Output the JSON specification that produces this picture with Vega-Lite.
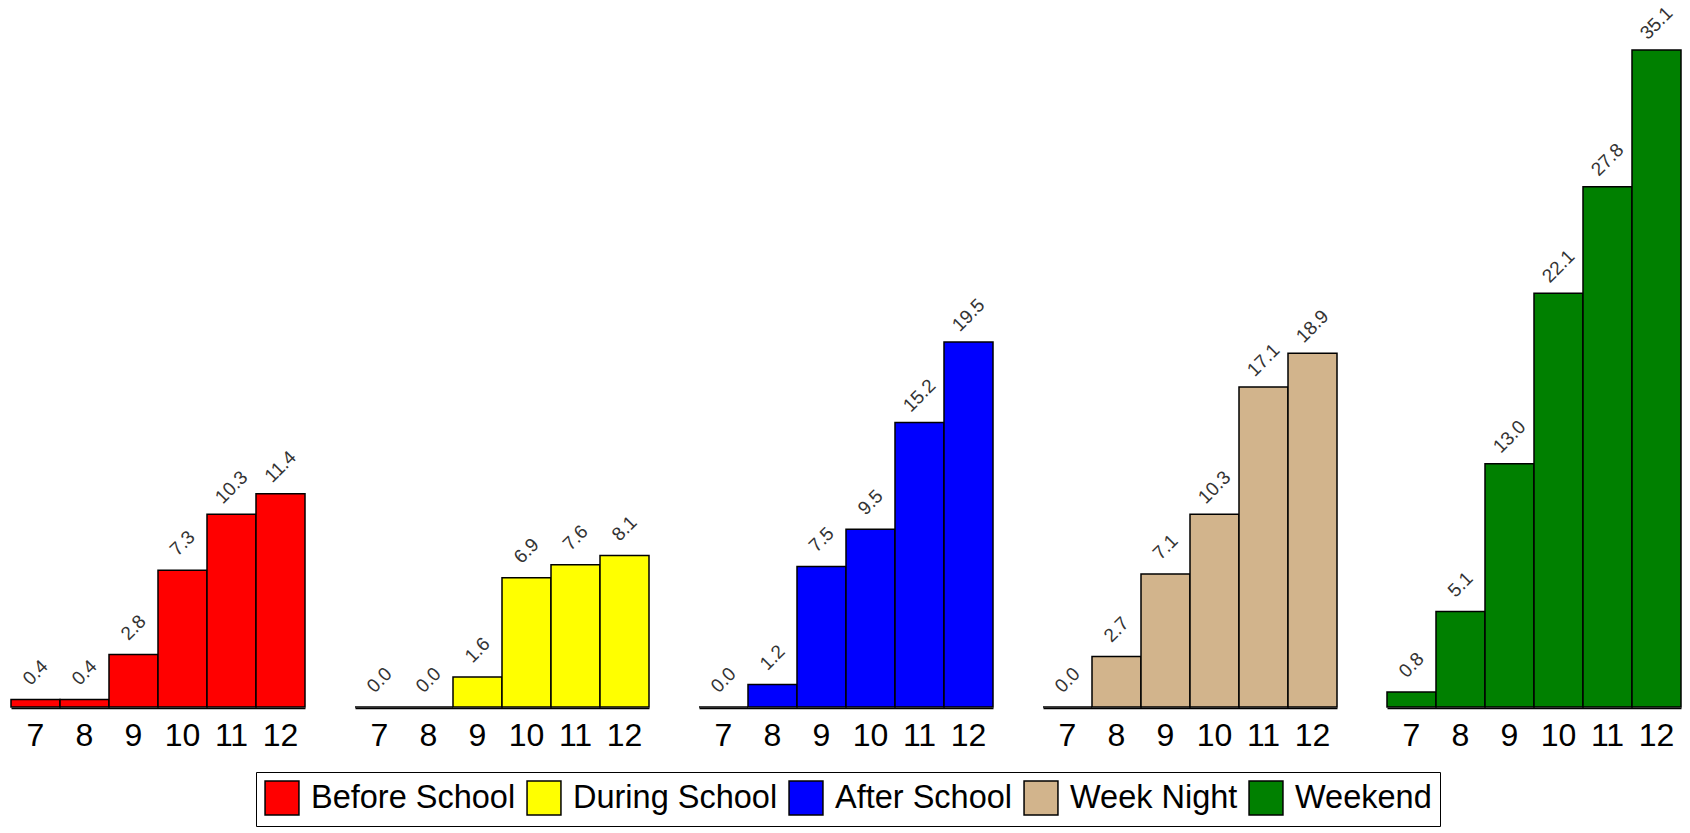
{
  "$schema": "https://vega.github.io/schema/vega-lite/v6.json",
  "padding": {"left": 10, "top": 1, "right": 0, "bottom": 0},
  "background": "white",
  "data": {"values": [
    {"period": "Before School", "grade": "7", "value": 0.4},
    {"period": "Before School", "grade": "8", "value": 0.4},
    {"period": "Before School", "grade": "9", "value": 2.8},
    {"period": "Before School", "grade": "10", "value": 7.3},
    {"period": "Before School", "grade": "11", "value": 10.3},
    {"period": "Before School", "grade": "12", "value": 11.4},
    {"period": "During School", "grade": "7", "value": 0.0},
    {"period": "During School", "grade": "8", "value": 0.0},
    {"period": "During School", "grade": "9", "value": 1.6},
    {"period": "During School", "grade": "10", "value": 6.9},
    {"period": "During School", "grade": "11", "value": 7.6},
    {"period": "During School", "grade": "12", "value": 8.1},
    {"period": "After School", "grade": "7", "value": 0.0},
    {"period": "After School", "grade": "8", "value": 1.2},
    {"period": "After School", "grade": "9", "value": 7.5},
    {"period": "After School", "grade": "10", "value": 9.5},
    {"period": "After School", "grade": "11", "value": 15.2},
    {"period": "After School", "grade": "12", "value": 19.5},
    {"period": "Week Night", "grade": "7", "value": 0.0},
    {"period": "Week Night", "grade": "8", "value": 2.7},
    {"period": "Week Night", "grade": "9", "value": 7.1},
    {"period": "Week Night", "grade": "10", "value": 10.3},
    {"period": "Week Night", "grade": "11", "value": 17.1},
    {"period": "Week Night", "grade": "12", "value": 18.9},
    {"period": "Weekend", "grade": "7", "value": 0.8},
    {"period": "Weekend", "grade": "8", "value": 5.1},
    {"period": "Weekend", "grade": "9", "value": 13.0},
    {"period": "Weekend", "grade": "10", "value": 22.1},
    {"period": "Weekend", "grade": "11", "value": 27.8},
    {"period": "Weekend", "grade": "12", "value": 35.1}
  ]},
  "facet": {
    "column": {
      "field": "period",
      "type": "nominal",
      "sort": ["Before School", "During School", "After School", "Week Night", "Weekend"],
      "header": {"title": null, "labels": false}
    }
  },
  "spacing": 48,
  "spec": {
    "width": 294,
    "height": 706,
    "layer": [
      {
        "mark": {"type": "bar", "stroke": "black", "strokeWidth": 1.5},
        "encoding": {
          "x": {"field": "grade", "type": "nominal", "sort": ["7", "8", "9", "10", "11", "12"],
                "scale": {"paddingInner": 0, "paddingOuter": 0},
                "axis": {"title": null, "labelAngle": 0, "ticks": false, "labelPadding": 12,
                         "labelFontSize": 32, "labelFont": "Liberation Sans", "labelColor": "black",
                         "domainColor": "black", "domainWidth": 1.5}},
          "y": {"field": "value", "type": "quantitative",
                "scale": {"domain": [0, 37.72], "nice": false, "zero": true},
                "axis": null},
          "color": {"field": "period", "type": "nominal",
                    "scale": {"domain": ["Before School", "During School", "After School", "Week Night", "Weekend"],
                              "range": ["#FF0000", "#FFFF00", "#0000FF", "#D2B48C", "#008000"]},
                    "legend": {"title": null, "orient": "none", "legendX": 245, "legendY": 771,
                               "direction": "horizontal", "columns": 5,
                               "symbolType": "square", "symbolSize": 1150,
                               "symbolStrokeColor": "black", "symbolStrokeWidth": 1.5,
                               "labelFontSize": 32.5, "labelFont": "Liberation Sans", "labelColor": "black",
                               "labelLimit": 0, "fillColor": "white", "strokeColor": "black",
                               "padding": 8, "columnPadding": 8, "labelOffset": 11}}
        }
      },
      {
        "mark": {"type": "text", "angle": 315, "align": "center", "baseline": "middle",
                 "dx": 19, "dy": -19, "fontSize": 19, "font": "Liberation Sans", "color": "#333333"},
        "encoding": {
          "x": {"field": "grade", "type": "nominal", "sort": ["7", "8", "9", "10", "11", "12"]},
          "y": {"field": "value", "type": "quantitative"},
          "text": {"field": "value", "type": "quantitative", "format": ".1f"}
        }
      }
    ]
  },
  "config": {"view": {"stroke": null}, "axis": {"grid": false}}
}
